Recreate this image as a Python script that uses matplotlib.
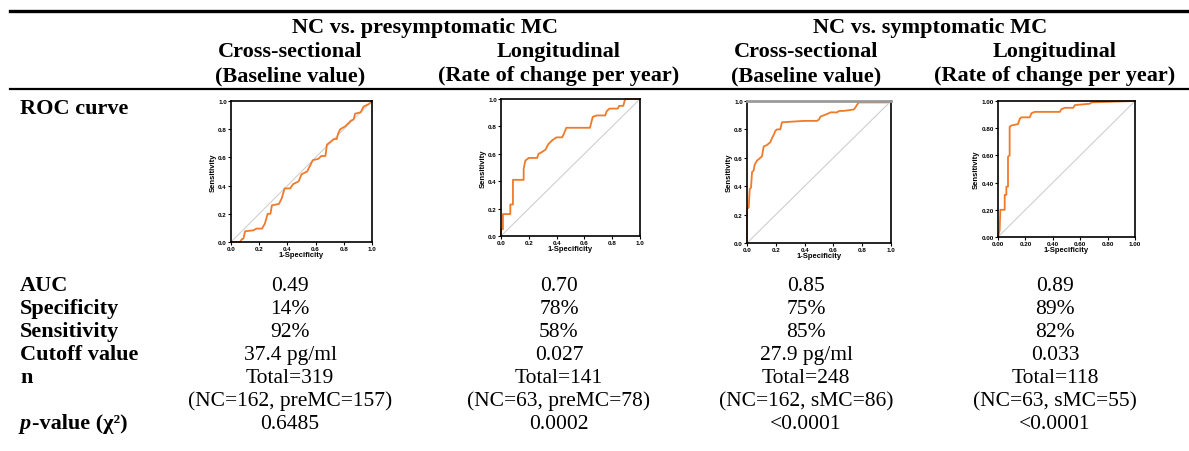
import matplotlib
matplotlib.use("Agg")
import matplotlib.pyplot as plt
from matplotlib.lines import Line2D

W, H = 1189, 452

# Table content
group_titles = ["NC vs. presymptomatic MC", "NC vs. symptomatic MC"]
col_titles = ["Cross-sectional", "Longitudinal", "Cross-sectional", "Longitudinal"]
col_subtitles = ["(Baseline value)", "(Rate of change per year)",
                 "(Baseline value)", "(Rate of change per year)"]
row_labels = ["AUC", "Specificity", "Sensitivity", "Cutoff value", "n", ""]
auc = ["0.49", "0.70", "0.85", "0.89"]
specificity = ["14%", "78%", "75%", "89%"]
sensitivity = ["92%", "58%", "85%", "82%"]
cutoff = ["37.4 pg/ml", "0.027", "27.9 pg/ml", "0.033"]
n_total = ["Total=319", "Total=141", "Total=248", "Total=118"]
n_groups = ["(NC=162, preMC=157)", "(NC=63, preMC=78)",
            "(NC=162, sMC=86)", "(NC=63, sMC=55)"]
p_values = ["0.6485", "0.0002", "<0.0001", "<0.0001"]

# ROC curves (1-specificity, sensitivity)
roc1_fpr = [0, 0.064, 0.076, 0.088, 0.10, 0.16, 0.18, 0.22, 0.24, 0.26, 0.28, 0.29, 0.34, 0.36,
            0.38, 0.42, 0.44, 0.48, 0.50, 0.54, 0.56, 0.58, 0.62, 0.64, 0.67, 0.68, 0.73, 0.75,
            0.76, 0.775, 0.81, 0.82, 0.85, 0.87, 0.88, 0.92, 0.94, 0.98, 1.0]
roc1_tpr = [0, 0, 0.019, 0.024, 0.076, 0.083, 0.095, 0.095, 0.13, 0.20, 0.20, 0.26, 0.27, 0.31,
            0.38, 0.38, 0.41, 0.43, 0.48, 0.50, 0.54, 0.58, 0.59, 0.61, 0.61, 0.69, 0.73, 0.73,
            0.77, 0.80, 0.82, 0.83, 0.86, 0.87, 0.91, 0.92, 0.96, 0.98, 1.0]

roc2_fpr = [0, 0, 0.014, 0.014, 0.067, 0.067, 0.086, 0.086, 0.163, 0.163, 0.175, 0.20, 0.26,
            0.27, 0.29, 0.32, 0.34, 0.37, 0.40, 0.44, 0.45, 0.47, 0.64, 0.66, 0.69, 0.75, 0.76,
            0.78, 0.84, 0.85, 0.88, 0.89, 0.90, 1.0]
roc2_tpr = [0, 0.05, 0.05, 0.16, 0.16, 0.23, 0.23, 0.41, 0.41, 0.49, 0.55, 0.57, 0.57,
            0.60, 0.61, 0.63, 0.67, 0.70, 0.72, 0.72, 0.74, 0.79, 0.79, 0.87, 0.88, 0.88, 0.91,
            0.93, 0.93, 0.95, 0.95, 0.99, 1.0, 1.0]

roc3_fpr = [0, 0, 0.012, 0.019, 0.028, 0.035, 0.046, 0.053, 0.069, 0.081, 0.104, 0.116, 0.139,
            0.162, 0.174, 0.185, 0.197, 0.208, 0.231, 0.243, 0.394, 0.486, 0.50, 0.51, 0.56,
            0.58, 0.625, 0.64, 0.67, 0.74, 0.75, 0.775, 0.97, 1.0]
roc3_tpr = [0, 0.24, 0.25, 0.38, 0.39, 0.50, 0.51, 0.55, 0.58, 0.59, 0.61, 0.68, 0.69,
            0.71, 0.74, 0.76, 0.79, 0.80, 0.80, 0.85, 0.86, 0.86, 0.87, 0.89, 0.91,
            0.92, 0.92, 0.93, 0.93, 0.94, 0.95, 0.99, 0.99, 1.0]

roc4_fpr = [0, 0.012, 0.017, 0.049, 0.049, 0.061, 0.061, 0.073, 0.073, 0.085, 0.085, 0.098,
            0.146, 0.159, 0.171, 0.232, 0.244, 0.268, 0.451, 0.463, 0.488, 0.549, 0.561,
            0.671, 0.683, 1.0]
roc4_tpr = [0, 0.05, 0.20, 0.20, 0.31, 0.31, 0.37, 0.37, 0.59, 0.60, 0.81, 0.82,
            0.83, 0.87, 0.88, 0.88, 0.91, 0.92, 0.92, 0.94, 0.95, 0.95, 0.97,
            0.98, 0.99, 1.0]

rocs = [(roc1_fpr, roc1_tpr), (roc2_fpr, roc2_tpr), (roc3_fpr, roc3_tpr), (roc4_fpr, roc4_tpr)]
tick_fmt = ["%.1f", "%.1f", "%.1f", "%.2f"]

# pixel boxes of the small plots: left, top, right, bottom
boxes = [(231, 102, 372, 243), (501, 100, 640, 237), (747, 102, 891, 244), (998, 102, 1135, 238)]
col_x = [290, 559, 806, 1055]
group_x = [425, 930]

plt.rcParams["font.family"] = ["Liberation Serif", "DejaVu Serif"]
fig = plt.figure(figsize=(W / 100, H / 100), dpi=100)


def fx(x):
    return x / W


def fy(y):
    return 1 - y / H


def put(x, y, s, ha="center", bold=False, size=15, **kw):
    fig.text(fx(x), fy(y), s, ha=ha, va="baseline", fontsize=size,
             fontweight="bold" if bold else "normal", **kw)


# rules
fig.add_artist(Line2D([fx(10), 1], [fy(12), fy(12)], color="black", lw=2.4))
fig.add_artist(Line2D([fx(10), 1], [fy(90), fy(90)], color="black", lw=1.6))

# header
for x, s in zip(group_x, group_titles):
    put(x, 33, s, bold=True, size=16)
for x, a, b in zip(col_x, col_titles, col_subtitles):
    put(x, 57, a, bold=True, size=16)
    put(x, 81, b, bold=True, size=16)

# row labels
put(20, 114, "ROC curve", ha="left", bold=True, size=16)
base = [291, 314, 337, 360, 383, 406]
for y, s in zip(base, row_labels):
    if s:
        put(20, y, s, ha="left", bold=True, size=16)
fig.text(fx(20), fy(429), "p", ha="left", va="baseline", fontsize=16,
         fontweight="bold", fontstyle="italic")
put(32, 429, "-value (\u03c7\u00b2)", ha="left", bold=True, size=16)

# values
rows = [auc, specificity, sensitivity, cutoff, n_total, n_groups, p_values]
for y, vals in zip(base + [429], rows):
    for x, v in zip(col_x, vals):
        put(x, y, v, size=15.5)

# ROC panels
ticks = [0, 0.2, 0.4, 0.6, 0.8, 1.0]
for i, ((l, t, r, b), (fpr, tpr)) in enumerate(zip(boxes, rocs)):
    ax = fig.add_axes([fx(l), fy(b), (r - l) / W, (b - t) / H])
    ax.plot([0, 1], [0, 1], color="#cfcfcf", lw=0.8)
    ax.plot(fpr, tpr, color="#f07a28", lw=1.3, clip_on=False)
    ax.set_xlim(0, 1)
    ax.set_ylim(0, 1)
    ax.set_xticks(ticks)
    ax.set_yticks(ticks)
    ax.set_xticklabels([tick_fmt[i] % v for v in ticks])
    ax.set_yticklabels([tick_fmt[i] % v for v in ticks])
    ax.tick_params(length=2, width=0.8, pad=1, labelsize=4.5)
    for lab in ax.get_xticklabels() + ax.get_yticklabels():
        lab.set_fontfamily("Liberation Sans")
        lab.set_fontweight("bold")
    ax.set_xlabel("1-Specificity", fontsize=5.5, fontweight="bold",
                  fontfamily="Liberation Sans", labelpad=0)
    ax.set_ylabel("Sensitivity", fontsize=5.5, fontweight="bold",
                  fontfamily="Liberation Sans", labelpad=1)
    for s in ax.spines.values():
        s.set_linewidth(1.2)
    if i == 2:
        ax.spines["top"].set_color("#9a9a9a")
        ax.spines["top"].set_linewidth(2)

fig.savefig("out.png", dpi=100)
